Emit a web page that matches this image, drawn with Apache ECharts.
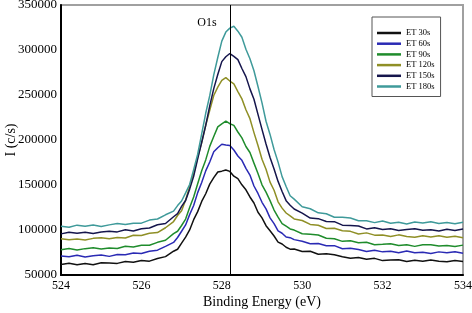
<!DOCTYPE html>
<html>
<head>
<meta charset="utf-8">
<title>O1s</title>
<script src="https://cdn.jsdelivr.net/npm/echarts@6/dist/echarts.min.js"></script>
<style>
html, body { margin: 0; padding: 0; background: #fff; }
#chart { width: 472px; height: 313px; }
</style>
</head>
<body>
<div id="chart"></div>
<script>
// binding energy (eV), finer step round the peak
var energy = [524.0,524.2,524.4,524.6,524.8,525.0,525.2,525.4,525.6,525.8,526.0,526.2,526.4,526.6,
    526.8,526.9,527.0,527.1,527.2,527.3,527.4,527.5,527.6,527.7,527.8,527.9,528.0,528.1,528.2,528.3,
    528.4,528.5,528.6,528.7,528.8,528.9,529.0,529.1,529.2,529.3,529.4,529.5,529.6,529.7,529.8,
    530.0,530.2,530.4,530.6,530.8,531.0,531.2,531.4,531.6,531.8,532.0,532.2,532.4,532.6,532.8,
    533.0,533.2,533.4,533.6,533.8,534.0];

// intensity (c/s)
var et30 = [61700,63100,61500,62900,61500,63500,63400,62900,65000,64200,66200,65400,68400,70400,
    76400,78600,85500,92100,100100,111500,120400,131700,140300,151000,158200,164500,165400,166700,165100,159800,
    157000,150200,144700,136700,130000,119700,113400,104800,99200,93300,86500,84400,80800,78700,78800,
    76100,76400,73100,73500,72500,70200,68500,69500,67400,68500,66000,66700,67000,65000,66300,
    65200,66700,65400,64600,66100,65100];
var et60 = [71200,70200,72000,70100,71400,72300,70700,72800,72500,74500,73800,76300,77600,81800,
    86200,91700,98600,105600,117100,127200,141500,152700,165700,175600,186900,191400,195300,194400,193800,188900,
    182200,177400,168500,161000,148900,140600,130800,123500,113500,107100,99000,96400,92300,91500,89300,
    87600,84800,84900,82600,82600,79200,79600,78300,76100,77600,75700,76500,74800,76700,74700,
    75400,73900,75700,74600,75800,74200];
var et90 = [78100,79500,77800,79300,80200,78800,80100,79500,82000,81200,83100,83000,86300,88600,
    95900,98600,105000,112100,125100,136600,151400,165800,177900,192900,203800,214600,218000,220900,218100,216300,
    208900,202300,192800,186100,174300,162800,150200,142100,132600,122200,114300,107100,104200,101200,99900,
    95800,95200,94500,90900,90300,87400,88100,85800,86300,83700,84100,84700,82800,83600,81800,
    83600,83700,82200,82900,81600,83200];
var et120 = [90200,89100,89900,88900,90700,91400,90200,91700,91100,94100,93900,96400,97100,102500,
    109400,116100,121400,133300,148200,162400,180700,197100,216400,232900,249400,258800,266200,269300,265500,262400,
    253800,245700,233600,223700,208200,193800,178700,167600,153200,144200,131300,124300,118900,115600,112300,
    110500,106200,105300,101700,101900,99100,98500,95600,96800,94300,94500,92700,94600,92900,91900,
    93700,92300,93700,91900,93000,91400];
var et150 = [95700,97500,96500,97600,96100,97800,98700,97900,100200,98900,101300,102200,105800,107200,
    114700,118200,126200,132800,145400,159600,179000,197500,216200,237900,257100,272700,287100,292500,296100,293000,
    289300,279400,270400,256800,245300,228500,211800,195600,180500,167800,154000,142800,132600,127500,123300,
    118800,113200,112600,109500,109300,105400,105000,104500,101200,102400,100600,101400,99400,100600,101300,
    99600,100300,98800,100800,99500,101000];
var et180 = [104200,103100,105400,104100,105600,103800,105700,107200,106000,107600,107600,111000,112200,116900,
    121000,127100,132200,141300,150600,167100,184200,206900,229700,249300,272300,291700,309900,319900,324300,326400,
    320900,314200,300900,290200,276900,259500,241300,220800,206200,189400,175400,159300,148400,138100,134300,
    125900,123600,119100,118100,114200,114200,113300,110300,110300,108200,110100,107600,108600,106700,108900,
    107800,109100,107200,108400,107000,108700];

var seriesNames = ['ET 30s', 'ET 60s', 'ET 90s', 'ET 120s', 'ET 150s', 'ET 180s'];
var seriesValues = [et30, et60, et90, et120, et150, et180];
var seriesColors = ['#111111', '#2a2ab4', '#1f8c2c', '#8f8f26', '#15154c', '#3f9a9a'];

var xTicks = [524, 526, 528, 530, 532, 534];
var yTicks = [50000, 100000, 150000, 200000, 250000, 300000, 350000];

// peak marker
var peakEnergy = 528.2;
var peakName = 'O1s';
var peakLabelAt = [527.63, 330000];

var font = 'Liberation Serif';

var series = seriesValues.map(function (vals, i) {
    return {
        name: seriesNames[i],
        type: 'line',
        data: energy.map(function (e, j) { return [e, vals[j]]; }),
        symbol: 'none',
        showSymbol: false,
        lineStyle: { width: 1.5, color: seriesColors[i] },
        itemStyle: { color: seriesColors[i] }
    };
});

series[0].markLine = {
    silent: true,
    symbol: ['none', 'none'],
    label: { show: false },
    lineStyle: { color: '#000', width: 1, type: 'solid' },
    data: [{ xAxis: peakEnergy }]
};
series[0].markPoint = {
    silent: true,
    symbol: 'circle',
    symbolSize: 0,
    label: { show: true, position: 'inside', formatter: peakName, fontFamily: font, fontSize: 12, color: '#000' },
    data: [{ coord: peakLabelAt }]
};

var chart = echarts.init(document.getElementById('chart'), null, { renderer: 'canvas' });
chart.setOption({
    animation: false,
    backgroundColor: '#fff',
    grid: {
        left: 61, right: 9, top: 5, bottom: 38,
        containLabel: false,
        outerBoundsMode: 'none',
        show: true, borderColor: '#a0a0a0', borderWidth: 2
    },
    legend: {
        data: seriesNames,
        orient: 'vertical',
        left: 372, top: 17,
        padding: [11, 6, 5, 5],
        borderColor: '#555', borderWidth: 1,
        backgroundColor: '#fff',
        icon: 'rect',
        itemWidth: 24, itemHeight: 2.5,
        itemGap: 0.7,
        textStyle: { fontFamily: font, fontSize: 8.5, lineHeight: 10, color: '#000' }
    },
    xAxis: {
        type: 'value',
        min: xTicks[0], max: xTicks[xTicks.length - 1], interval: xTicks[1] - xTicks[0],
        name: 'Binding Energy (eV)', nameLocation: 'middle', nameGap: 20,
        nameMoveOverlap: false,
        nameTextStyle: { fontFamily: font, fontSize: 14, color: '#000' },
        axisLine: { lineStyle: { color: '#000', width: 2 } },
        axisTick: { show: false },
        splitLine: { show: false },
        axisLabel: { fontFamily: font, fontSize: 12, color: '#000', margin: 5 }
    },
    yAxis: {
        type: 'value',
        min: yTicks[0], max: yTicks[yTicks.length - 1], interval: yTicks[1] - yTicks[0],
        name: 'I (c/s)', nameLocation: 'middle', nameGap: 43,
        nameMoveOverlap: false,
        nameTextStyle: { fontFamily: font, fontSize: 14, color: '#000' },
        axisLine: { show: true, lineStyle: { color: '#000', width: 2 } },
        axisTick: { show: false },
        splitLine: { show: false },
        axisLabel: {
            fontFamily: font, fontSize: 13, color: '#000', margin: 4,
            formatter: function (v) { return String(v); }
        }
    },
    series: series
});
</script>
</body>
</html>
